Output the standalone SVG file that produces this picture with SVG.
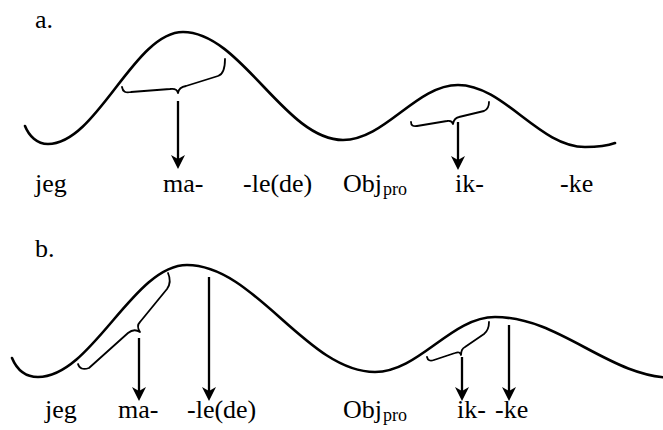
<svg xmlns="http://www.w3.org/2000/svg" width="663" height="430" viewBox="0 0 663 430">
<style>
.curve{fill:none;stroke:#000;stroke-width:2.6;stroke-linecap:round}
.brace{fill:none;stroke:#000;stroke-width:1.8;stroke-linecap:round;stroke-linejoin:round}
.arrow{fill:none;stroke:#000;stroke-width:2.3}
.lbl{font-size:26px;fill:#000}
.sub{font-size:18px}
</style>
<defs>
<marker id="ah" viewBox="0 0 14 14" refX="10" refY="7" markerWidth="14" markerHeight="14" markerUnits="userSpaceOnUse" orient="auto">
<path d="M0,0 L14,7 L0,14 L4,7 Z" fill="#000"/>
</marker>
</defs>
<rect width="663" height="430" fill="#fff"/>

<g id="panel-a">
<text class="lbl" font-family="Liberation Serif" x="35" y="28">a.</text>
<g id="a-curve"><path class="curve" d="M25,126 C29,136 37,144 48,144 C97,144 134,32 183,32 C241,32 285,140 343,140 C385,140 416,85 458,85 C504,85 539,147 585,147 C597,147 607,146 615,143"/></g>
<g id="a-brace1"><path class="brace" d="M122,87 Q123,94 131,92 L170,89 Q177,88 178,93 Q179,87 186,86 L218,76 Q225,74 225,59"/></g>
<g id="a-brace2"><path class="brace" d="M411,122 Q411,127 417,126 L447,121 Q452,120 453,124 Q454,118 459,117 L484,111 Q489,109 489,102"/></g>
<g id="a-jeg"><text class="lbl" font-family="Liberation Serif" x="35" y="192">jeg</text></g>
<g id="a-ma"><text class="lbl" font-family="Liberation Serif" x="163" y="192">ma-</text></g>
<g id="a-lede"><text class="lbl" font-family="Liberation Serif" x="243" y="192">-le(de)</text></g>
<g id="a-obj"><text class="lbl" font-family="Liberation Serif" x="343" y="192">Obj<tspan class="sub" font-family="Liberation Serif" dx="1" dy="3">pro</tspan></text></g>
<g id="a-ik"><text class="lbl" font-family="Liberation Serif" x="455" y="192">ik-</text></g>
<g id="a-ke"><text class="lbl" font-family="Liberation Serif" x="560" y="192">-ke</text></g>
</g>

<g id="panel-b">
<text class="lbl" font-family="Liberation Serif" x="35" y="257">b.</text>
<g id="b-curve"><path class="curve" d="M12,358 C17,370 26,377 38,377 C92,377 133,265 187,265 C255,265 307,372 375,372 C419,372 451,317 495,317 C561,317 609,378 675,378"/></g>
<g id="b-brace1"><path class="brace" d="M78,364 Q80,371 89,368 L128,333 Q134,328 140,332 Q136,326 140,322 L167,289 Q172,282 168,273"/></g>
<g id="b-brace2"><path class="brace" d="M427,357 Q428,362 434,360 L455,353 Q460,351 461,355 Q461,349 465,347 L484,334 Q489,330 489,322"/></g>
<g id="b-jeg"><text class="lbl" font-family="Liberation Serif" x="45" y="418">jeg</text></g>
<g id="b-ma"><text class="lbl" font-family="Liberation Serif" x="118" y="418">ma-</text></g>
<g id="b-lede"><text class="lbl" font-family="Liberation Serif" x="187" y="418">-le(de)</text></g>
<g id="b-obj"><text class="lbl" font-family="Liberation Serif" x="343" y="418">Obj<tspan class="sub" font-family="Liberation Serif" dx="1" dy="3">pro</tspan></text></g>
<g id="b-ik"><text class="lbl" font-family="Liberation Serif" x="457" y="418">ik-</text></g>
<g id="b-ke"><text class="lbl" font-family="Liberation Serif" x="495" y="418">-ke</text></g>
</g>

<g id="connectors">
<line class="arrow" x1="178" y1="101" x2="178" y2="165" marker-end="url(#ah)"/>
<line class="arrow" x1="458" y1="122" x2="458" y2="166" marker-end="url(#ah)"/>
<line class="arrow" x1="139" y1="338" x2="139" y2="397" marker-end="url(#ah)"/>
<line class="arrow" x1="209" y1="277" x2="209" y2="397" marker-end="url(#ah)"/>
<line class="arrow" x1="462" y1="357" x2="462" y2="397" marker-end="url(#ah)"/>
<line class="arrow" x1="509" y1="325" x2="509" y2="397" marker-end="url(#ah)"/>
</g>
</svg>
